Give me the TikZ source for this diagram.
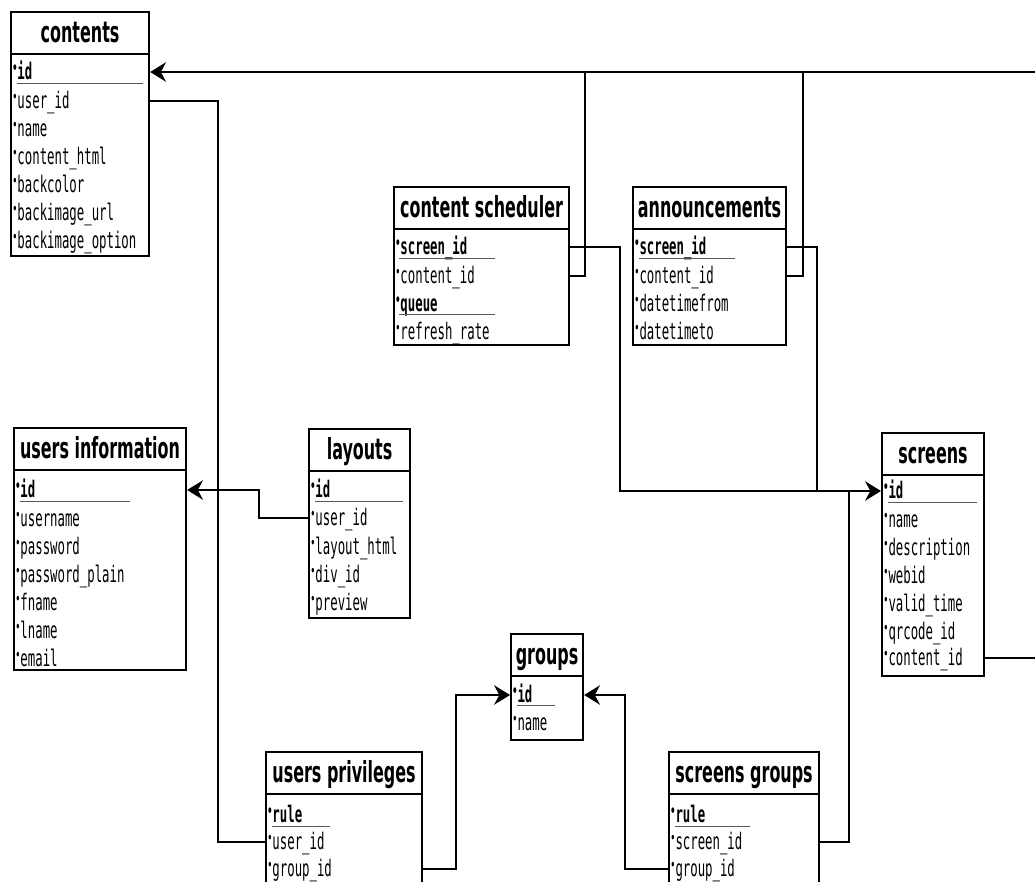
\documentclass[tikz,border=0pt]{standalone}
\usepackage{fontspec}
\setmainfont{DejaVu Sans}[FakeStretch=0.55]
\setmonofont{DejaVu Sans Mono}[FakeStretch=0.54]
\usetikzlibrary{arrows.meta}

\newcommand{\fdot}{\raisebox{0.45ex}{\fontsize{9}{9}\selectfont\textbullet}}

\tikzset{
  tbl/.style={draw,line width=1.2pt,inner sep=0pt,anchor=north west},
  ttl/.style={font=\bfseries\fontsize{16.5}{19}\selectfont,inner sep=0pt,text height=12pt,text depth=3.5pt},
  fld/.style={font=\ttfamily\fontsize{13}{15}\selectfont,anchor=west,inner sep=0pt,text height=11pt,text depth=2.5pt},
  keyfld/.style={fld,font=\ttfamily\bfseries\fontsize{13}{15}\selectfont},
  keyline/.style={gray!70!black,line width=0.7pt},
  conn/.style={line width=1.3pt},
  tip/.style={-{Stealth[length=9pt,width=11pt]}}
}

\begin{document}
\begin{tikzpicture}
    \useasboundingbox (0,0) rectangle (20.7,-17.64);
    \clip (0,0) rectangle (20.7,-17.64);

    % contents
    \node[tbl,minimum width=2.76cm,minimum height=4.88cm] (contents) at (0.2,-0.22) {};
    \draw[conn] ([yshift=-0.86cm]contents.north west) -- ([yshift=-0.86cm]contents.north east);
    \node[ttl] (contents-t) at ([yshift=-0.48cm]contents.north) {contents};
    \node[keyfld] (contents-id) at (0.24,-1.44) {\fdot id};
    \node[fld] (contents-userid) at (0.24,-2.02) {\fdot user\_id};
    \node[fld] (contents-name) at (0.24,-2.58) {\fdot name};
    \node[fld] (contents-html) at (0.24,-3.14) {\fdot content\_html};
    \node[fld] (contents-color) at (0.24,-3.70) {\fdot backcolor};
    \node[fld] (contents-url) at (0.24,-4.26) {\fdot backimage\_url};
    \node[fld] (contents-option) at (0.24,-4.82) {\fdot backimage\_option};
    \draw[keyline] (0.34,-1.67) -- (2.86,-1.67);

    % content scheduler
    \node[tbl,minimum width=3.5cm,minimum height=3.16cm] (sched) at (7.86,-3.72) {};
    \draw[conn] ([yshift=-0.86cm]sched.north west) -- ([yshift=-0.86cm]sched.north east);
    \node[ttl] (sched-t) at ([yshift=-0.48cm]sched.north) {content scheduler};
    \node[keyfld] (sched-screenid) at (7.9,-4.94) {\fdot screen\_id};
    \node[fld] (sched-contentid) at (7.9,-5.52) {\fdot content\_id};
    \node[keyfld] (sched-queue) at (7.9,-6.08) {\fdot queue};
    \node[fld] (sched-rate) at (7.9,-6.64) {\fdot refresh\_rate};
    \draw[keyline] (7.98,-5.17) -- (9.9,-5.17);
    \draw[keyline] (7.98,-6.29) -- (9.9,-6.29);

    % announcements
    \node[tbl,minimum width=3.06cm,minimum height=3.16cm] (ann) at (12.64,-3.72) {};
    \draw[conn] ([yshift=-0.86cm]ann.north west) -- ([yshift=-0.86cm]ann.north east);
    \node[ttl] (ann-t) at ([yshift=-0.48cm]ann.north) {announcements};
    \node[keyfld] (ann-screenid) at (12.68,-4.94) {\fdot screen\_id};
    \node[fld] (ann-contentid) at (12.68,-5.52) {\fdot content\_id};
    \node[fld] (ann-from) at (12.68,-6.08) {\fdot datetimefrom};
    \node[fld] (ann-to) at (12.68,-6.64) {\fdot datetimeto};
    \draw[keyline] (12.78,-5.17) -- (14.7,-5.17);

    % users information
    \node[tbl,minimum width=3.44cm,minimum height=4.84cm] (info) at (0.26,-8.54) {};
    \draw[conn] ([yshift=-0.86cm]info.north west) -- ([yshift=-0.86cm]info.north east);
    \node[ttl] (info-t) at ([yshift=-0.48cm]info.north) {users information};
    \node[keyfld] (info-id) at (0.3,-9.8) {\fdot id};
    \node[fld] (info-username) at (0.3,-10.38) {\fdot username};
    \node[fld] (info-password) at (0.3,-10.94) {\fdot password};
    \node[fld] (info-plain) at (0.3,-11.5) {\fdot password\_plain};
    \node[fld] (info-fname) at (0.3,-12.06) {\fdot fname};
    \node[fld] (info-lname) at (0.3,-12.62) {\fdot lname};
    \node[fld] (info-email) at (0.3,-13.18) {\fdot email};
    \draw[keyline] (0.4,-10.03) -- (2.6,-10.03);

    % layouts
    \node[tbl,minimum width=2.02cm,minimum height=3.78cm] (lay) at (6.16,-8.56) {};
    \draw[conn] ([yshift=-0.86cm]lay.north west) -- ([yshift=-0.86cm]lay.north east);
    \node[ttl] (lay-t) at ([yshift=-0.48cm]lay.north) {layouts};
    \node[keyfld] (lay-id) at (6.2,-9.8) {\fdot id};
    \node[fld] (lay-userid) at (6.2,-10.36) {\fdot user\_id};
    \node[fld] (lay-html) at (6.2,-10.94) {\fdot layout\_html};
    \node[fld] (lay-divid) at (6.2,-11.5) {\fdot div\_id};
    \node[fld] (lay-preview) at (6.2,-12.06) {\fdot preview};
    \draw[keyline] (6.3,-10.03) -- (8.06,-10.03);

    % groups
    \node[tbl,minimum width=1.44cm,minimum height=2.12cm] (grp) at (10.2,-12.66) {};
    \draw[conn] ([yshift=-0.86cm]grp.north west) -- ([yshift=-0.86cm]grp.north east);
    \node[ttl] (grp-t) at ([yshift=-0.48cm]grp.north) {groups};
    \node[keyfld] (grp-id) at (10.24,-13.9) {\fdot id};
    \node[fld] (grp-name) at (10.24,-14.46) {\fdot name};
    \draw[keyline] (10.34,-14.11) -- (11.1,-14.11);

    % users privileges
    \node[tbl,minimum width=3.12cm,minimum height=3.5cm] (priv) at (5.3,-15.02) {};
    \draw[conn] ([yshift=-0.86cm]priv.north west) -- ([yshift=-0.86cm]priv.north east);
    \node[ttl] (priv-t) at ([yshift=-0.48cm]priv.north) {users privileges};
    \node[keyfld] (priv-rule) at (5.34,-16.3) {\fdot rule};
    \node[fld] (priv-userid) at (5.34,-16.84) {\fdot user\_id};
    \node[fld] (priv-groupid) at (5.34,-17.38) {\fdot group\_id};
    \draw[keyline] (5.44,-16.53) -- (6.6,-16.53);

    % screens groups
    \node[tbl,minimum width=3.0cm,minimum height=3.5cm] (sgrp) at (13.36,-15.02) {};
    \draw[conn] ([yshift=-0.86cm]sgrp.north west) -- ([yshift=-0.86cm]sgrp.north east);
    \node[ttl] (sgrp-t) at ([yshift=-0.48cm]sgrp.north) {screens groups};
    \node[keyfld] (sgrp-rule) at (13.4,-16.3) {\fdot rule};
    \node[fld] (sgrp-screenid) at (13.4,-16.84) {\fdot screen\_id};
    \node[fld] (sgrp-groupid) at (13.4,-17.38) {\fdot group\_id};
    \draw[keyline] (13.5,-16.53) -- (15.0,-16.53);

    % screens
    \node[tbl,minimum width=2.04cm,minimum height=4.86cm] (scr) at (17.62,-8.64) {};
    \draw[conn] ([yshift=-0.86cm]scr.north west) -- ([yshift=-0.86cm]scr.north east);
    \node[ttl] (scr-t) at ([yshift=-0.48cm]scr.north) {screens};
    \node[keyfld] (scr-id) at (17.66,-9.82) {\fdot id};
    \node[fld] (scr-name) at (17.66,-10.4) {\fdot name};
    \node[fld] (scr-desc) at (17.66,-10.96) {\fdot description};
    \node[fld] (scr-webid) at (17.66,-11.52) {\fdot webid};
    \node[fld] (scr-valid) at (17.66,-12.08) {\fdot valid\_time};
    \node[fld] (scr-qrcode) at (17.66,-12.64) {\fdot qrcode\_id};
    \node[fld] (scr-contentid) at (17.66,-13.16) {\fdot content\_id};
    \draw[keyline] (17.76,-10.05) -- (19.54,-10.05);

    % bends of the connectors
    \coordinate (outR) at (20.9,-1.44);
    \coordinate (jSched) at (11.7,-1.44);
    \coordinate (jAnn) at (16.06,-1.44);
    \coordinate (jScr) at (12.4,-9.82);
    \coordinate (jAnnScr) at (16.34,-9.82);
    \coordinate (jSgrp) at (16.98,-9.82);
    \coordinate (jUser) at (4.36,-16.84);
    \coordinate (jLay) at (5.18,-9.8);
    \coordinate (jPriv) at (9.12,-13.9);
    \coordinate (jGrp) at (12.5,-13.9);

    \draw[conn,tip] (scr-contentid -| scr.east) -| (outR) -- (contents-id -| contents.east);
    \draw[conn] (sched-contentid -| sched.east) -| (jSched);
    \draw[conn] (ann-contentid -| ann.east) -| (jAnn);
    \draw[conn,tip] (sched-screenid -| sched.east) -| (jScr) -- (scr-id -| scr.west);
    \draw[conn] (ann-screenid -| ann.east) -| (jAnnScr);
    \draw[conn] (sgrp-screenid -| sgrp.east) -| (jSgrp);
    \draw[conn] (contents-userid -| contents.east) -| (jUser) -- (priv-userid -| priv.west);
    \draw[conn,tip] (lay-userid -| lay.west) -| (jLay) -- (info-id -| info.east);
    \draw[conn,tip] (priv-groupid -| priv.east) -| (jPriv) -- (grp-id -| grp.west);
    \draw[conn,tip] (sgrp-groupid -| sgrp.west) -| (jGrp) -- (grp-id -| grp.east);
  \end{tikzpicture}
\end{document}
